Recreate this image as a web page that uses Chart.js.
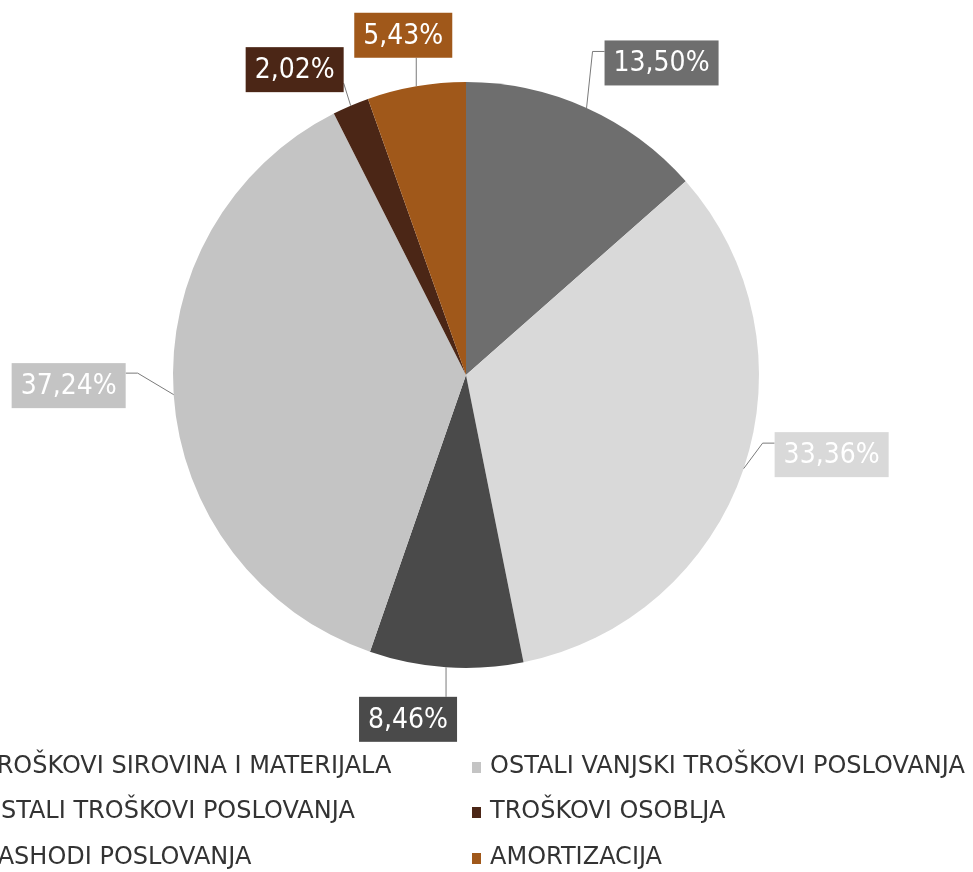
<!DOCTYPE html>
<html>
<head>
<meta charset="utf-8">
<script src="https://cdn.jsdelivr.net/npm/chart.js@4/dist/chart.umd.min.js"></script>
<style>
  html, body { margin: 0; padding: 0; background: #fff; }
  #wrap { width: 973px; height: 872px; position: relative; }
</style>
</head>
<body>
<div id="wrap"><canvas id="canvas"></canvas></div>
<script>
// data, in slice order (clockwise from 12 o'clock)
var categories = [
  'TROŠKOVI SIROVINA I MATERIJALA',
  'OSTALI TROŠKOVI POSLOVANJA',
  'RASHODI POSLOVANJA',
  'OSTALI VANJSKI TROŠKOVI POSLOVANJA',
  'TROŠKOVI OSOBLJA',
  'AMORTIZACIJA'
];
var shares = [13.50, 33.36, 8.46, 37.24, 2.02, 5.43];
var sliceColors = ['#6e6e6e', '#d9d9d9', '#4a4a4a', '#c4c4c4', '#4b2616', '#a0581a'];

// where each value box sits relative to the slice's rim point, and how the leader attaches
var labelPlace = [
  { ox: 75, oy: -45, side: 'left' },
  { ox: 88, oy: -14, side: 'left' },
  { ox: -38, oy: 52, side: 'top' },
  { ox: -105, oy: -9, side: 'right' },
  { ox: -56, oy: -36, side: 'corner' },
  { ox: -13, oy: -51, side: 'bottom' }
];

var LABEL_FONT = '"DejaVu Sans Condensed", "DejaVu Sans", sans-serif';
var LEGEND_FONT = '"DejaVu Sans", sans-serif';

function fmt(v) {
  return v.toFixed(2).replace('.', ',') + '%';
}

var valueLabels = {
  id: 'valueLabels',
  afterDatasetsDraw: function(chart) {
    var ctx = chart.ctx;
    var meta = chart.getDatasetMeta(0);
    ctx.save();
    ctx.font = '28px ' + LABEL_FONT;
    ctx.textAlign = 'center';
    ctx.textBaseline = 'middle';
    meta.data.forEach(function(arc, i) {
      var p = arc.getProps(['x', 'y', 'startAngle', 'endAngle', 'outerRadius'], true);
      var mid = (p.startAngle + p.endAngle) / 2;
      var ex = p.x + Math.cos(mid) * p.outerRadius;
      var ey = p.y + Math.sin(mid) * p.outerRadius;
      var txt = fmt(shares[i]);
      var w = ctx.measureText(txt).width + 18;
      var h = 45;
      var pl = labelPlace[i];
      var cx = ex + pl.ox, cy = ey + pl.oy;
      var left = cx - w / 2, top = cy - h / 2;

      // leader line
      ctx.strokeStyle = '#7a7a7a';
      ctx.lineWidth = 1;
      ctx.beginPath();
      ctx.moveTo(ex, ey);
      if (pl.side === 'left') {
        ctx.lineTo(left - 12, top + 11);
        ctx.lineTo(left, top + 11);
      } else if (pl.side === 'right') {
        ctx.lineTo(left + w + 12, top + 10);
        ctx.lineTo(left + w, top + 10);
      } else if (pl.side === 'top') {
        ctx.lineTo(ex, top);
      } else if (pl.side === 'bottom') {
        ctx.lineTo(ex, top + h);
      } else {
        ctx.lineTo(left + w, top + h - 9);
      }
      ctx.stroke();

      ctx.fillStyle = sliceColors[i];
      ctx.fillRect(left, top, w, h);
      ctx.fillStyle = '#ffffff';
      ctx.fillText(txt, cx, cy + 1);
    });
    ctx.restore();
  }
};

// two-column legend, filled column by column; left column runs off the page edge
var sideLegend = {
  id: 'sideLegend',
  afterDraw: function(chart) {
    var ctx = chart.ctx;
    var colText = [-18, 490];
    var rowY = [767, 812, 858];
    ctx.save();
    ctx.font = '24px ' + LEGEND_FONT;
    ctx.textBaseline = 'middle';
    ctx.textAlign = 'left';
    categories.forEach(function(name, i) {
      var col = Math.floor(i / 3), row = i % 3;
      var tx = colText[col], ty = rowY[row];
      ctx.fillStyle = sliceColors[i];
      ctx.fillRect(tx - 18, ty - 5, 9, 11);
      ctx.fillStyle = '#333333';
      ctx.fillText(name, tx, ty);
    });
    ctx.restore();
  }
};

var ctx = document.getElementById('canvas');
var pieChart = new Chart(ctx, {
  type: 'pie',
  data: {
    labels: categories,
    datasets: [{
      data: shares,
      backgroundColor: sliceColors,
      borderWidth: 0
    }]
  },
  options: {
    responsive: true,
    maintainAspectRatio: false,
    animation: false,
    layout: { padding: { left: 173, right: 214, top: 82, bottom: 204 } },
    plugins: {
      legend: { display: false },
      tooltip: { enabled: false }
    }
  },
  plugins: [valueLabels, sideLegend]
});
</script>
</body>
</html>
